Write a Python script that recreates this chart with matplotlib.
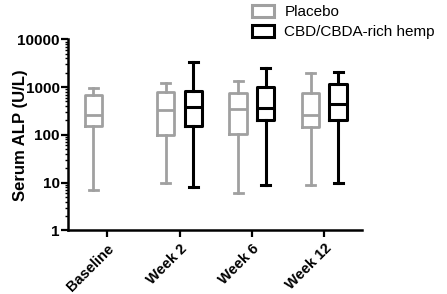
import matplotlib
matplotlib.use("Agg")
import matplotlib.pyplot as plt
from matplotlib.patches import Patch
import numpy as np

plt.rcParams['font.family'] = ['Liberation Sans', 'DejaVu Sans']

categories = ["Baseline", "Week 2", "Week 6", "Week 12"]
groups = ["Placebo", "CBD/CBDA-rich hemp"]

# five-number summaries: [min, Q1, median, Q3, max]
placebo_stats = {
    "Baseline": [7, 150, 260, 700, 950],
    "Week 2": [10, 100, 330, 800, 1200],
    "Week 6": [6, 105, 350, 750, 1350],
    "Week 12": [9, 145, 260, 770, 2000],
}
cbd_stats = {
    "Week 2": [8, 150, 380, 840, 3400],
    "Week 6": [9, 200, 360, 1000, 2550],
    "Week 12": [10, 200, 450, 1150, 2050],
}

colors = {"Placebo": "#a0a0a0", "CBD/CBDA-rich hemp": "#000000"}

fig = plt.figure(figsize=(4.47, 2.94), dpi=100)
ax = fig.add_axes([0.152, 0.2167, 0.658, 0.6493])

def make_bxp(stats, label):
    return dict(whislo=stats[0], q1=stats[1], med=stats[2], q3=stats[3],
                whishi=stats[4], label=label, fliers=[])

offset = 0.19
width = 0.24
for gi, (group, data) in enumerate([("Placebo", placebo_stats), ("CBD/CBDA-rich hemp", cbd_stats)]):
    c = colors[group]
    sign = -1 if gi == 0 else 1
    bstats = []
    pos = []
    for i, cat in enumerate(categories):
        if cat in data:
            bstats.append(make_bxp(data[cat], cat))
            pos.append(i + sign * offset)
    lw = 2.0 if gi == 0 else 2.2
    ax.bxp(bstats, positions=pos, widths=width, showfliers=False,
           boxprops=dict(color=c, linewidth=lw),
           medianprops=dict(color=c, linewidth=lw),
           whiskerprops=dict(color=c, linewidth=lw),
           capprops=dict(color=c, linewidth=lw),
           manage_ticks=False)

ax.set_yscale('log')
ax.set_ylim(1, 10000)
ax.set_xlim(-0.54, 3.52)
ax.set_yticks([1, 10, 100, 1000, 10000])
ax.set_yticklabels(["1", "10", "100", "1000", "10000"])
ax.set_xticks(range(len(categories)))
ax.set_xticklabels(categories, rotation=45, ha='right', rotation_mode='anchor')

for sp in ['top', 'right']:
    ax.spines[sp].set_visible(False)
for sp in ['left', 'bottom']:
    ax.spines[sp].set_linewidth(1.8)

ax.tick_params(axis='y', which='major', length=5, width=1.6, labelsize=11, pad=1)
ax.tick_params(axis='y', which='minor', length=2.5, width=1.0)
ax.tick_params(axis='x', which='major', length=5, width=1.6, labelsize=10.5, pad=3)
for lab in ax.get_xticklabels() + ax.get_yticklabels():
    lab.set_fontweight('bold')

ax.set_ylabel("Serum ALP (U/L)", fontsize=12, fontweight='bold')
ax.yaxis.set_label_coords(-0.135, 0.5)

handles = [Patch(facecolor='white', edgecolor=colors[g], linewidth=2.2, label=g) for g in groups]
fig.legend(handles=handles, loc='upper left', bbox_to_anchor=(0.532, 1.03),
           frameon=False, fontsize=11, handlelength=1.45, handleheight=0.8,
           handletextpad=0.7, labelspacing=0.4)

fig.savefig("out.png", dpi=100)
